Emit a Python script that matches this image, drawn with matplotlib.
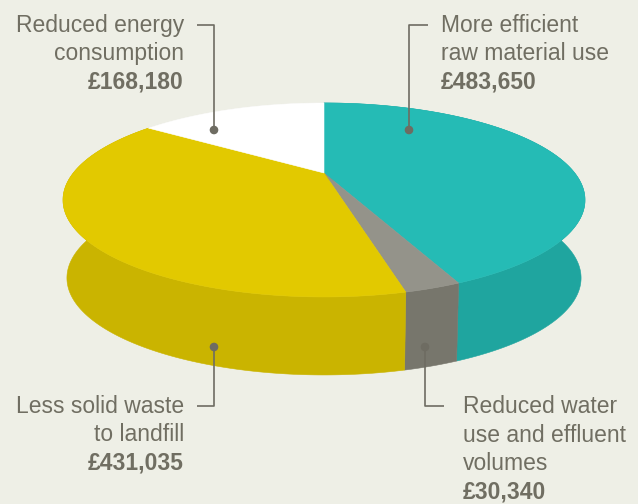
import numpy as np
import matplotlib
matplotlib.use("Agg")
import matplotlib.pyplot as plt
from matplotlib.patches import Polygon, Circle

# ---- data ----
categories = ["More efficient raw material use",
              "Reduced water use and effluent volumes",
              "Less solid waste to landfill",
              "Reduced energy consumption"]
values = [483650, 30340, 431035, 168180]
value_labels = ["£483,650", "£30,340", "£431,035", "£168,180"]
label_lines = [["More efficient", "raw material use"],
               ["Reduced water", "use and effluent", "volumes"],
               ["Less solid waste", "to landfill"],
               ["Reduced energy", "consumption"]]

top_colors = ['#25bbb5', '#94938a', '#e2c900', '#ffffff']
side_colors = ['#1fa59f', '#77766c', '#cab400', '#e6e6de']
bg = '#eeefe6'
txt = '#706e62'

W, H = 638, 504
fig = plt.figure(figsize=(W / 100, H / 100), dpi=100, facecolor=bg)
ax = fig.add_axes([0, 0, 1, 1])
ax.set_xlim(0, W)
ax.set_ylim(H, 0)
ax.axis('off')
ax.set_facecolor(bg)

# perspective geometry of the disc
cx, cy = 324.0, 173.0
A, B, k = 250.7, 89.5, 0.278
D = 78.0
shrink = 0.985


def proj(theta):
    u = np.sin(theta)
    v = -np.cos(theta)
    w = 1 - k * v
    return cx + A * u / w, cy + B * v / w


total = float(sum(values))
angles = np.cumsum([0] + [v / total * 2 * np.pi for v in values])

# sides
for i in range(len(values)):
    t = np.linspace(angles[i], angles[i + 1], 200)
    x, y = proj(t)
    xb = cx + (x - cx) * shrink
    pts = np.column_stack([np.r_[x, xb[::-1]], np.r_[y, y[::-1] + D]])
    ax.add_patch(Polygon(pts, closed=True, facecolor=side_colors[i],
                         edgecolor=side_colors[i], lw=0.4, zorder=1))

# tops
for i in range(len(values)):
    t = np.linspace(angles[i], angles[i + 1], 200)
    x, y = proj(t)
    pts = np.column_stack([np.r_[cx, x], np.r_[cy, y]])
    ax.add_patch(Polygon(pts, closed=True, facecolor=top_colors[i],
                         edgecolor=top_colors[i], lw=0.4, zorder=2))

font = 'Liberation Sans'
fs = 16.5
lc = '#6e6c62'

def leader(pts, dot):
    xs, ys = zip(*pts)
    ax.plot(xs, ys, color=lc, lw=1.2, zorder=3, solid_capstyle='butt')
    ax.add_patch(Circle(dot, 3.6, color=lc, zorder=4))

def label(x, y0, lines, value, ha, step=28.3):
    for j, s in enumerate(lines):
        ax.text(x, y0 + j * step, s, ha=ha, va='baseline', fontsize=fs,
                family=font, color=txt, zorder=5)
    ax.text(x, y0 + len(lines) * step, value, ha=ha, va='baseline',
            fontsize=fs, family=font, fontweight='bold', color=txt, zorder=5)

# Reduced energy (top-left)
leader([(197, 25), (214, 25), (214, 130)], (214, 130))
label(184, 32, label_lines[3], value_labels[3], 'right')
# More efficient (top-right)
leader([(428, 25), (409, 25), (409, 130)], (409, 130))
label(441, 32, label_lines[0], value_labels[0], 'left')
# Less solid waste (bottom-left)
leader([(214, 347), (214, 406), (197, 406)], (214, 347))
label(184, 413, label_lines[2], value_labels[2], 'right')
# Reduced water (bottom-right)
leader([(425, 347), (425, 406), (444, 406)], (425, 347))
label(463, 413, label_lines[1], value_labels[1], 'left', step=28.5)

fig.savefig('out.png', dpi=100, facecolor=bg)
